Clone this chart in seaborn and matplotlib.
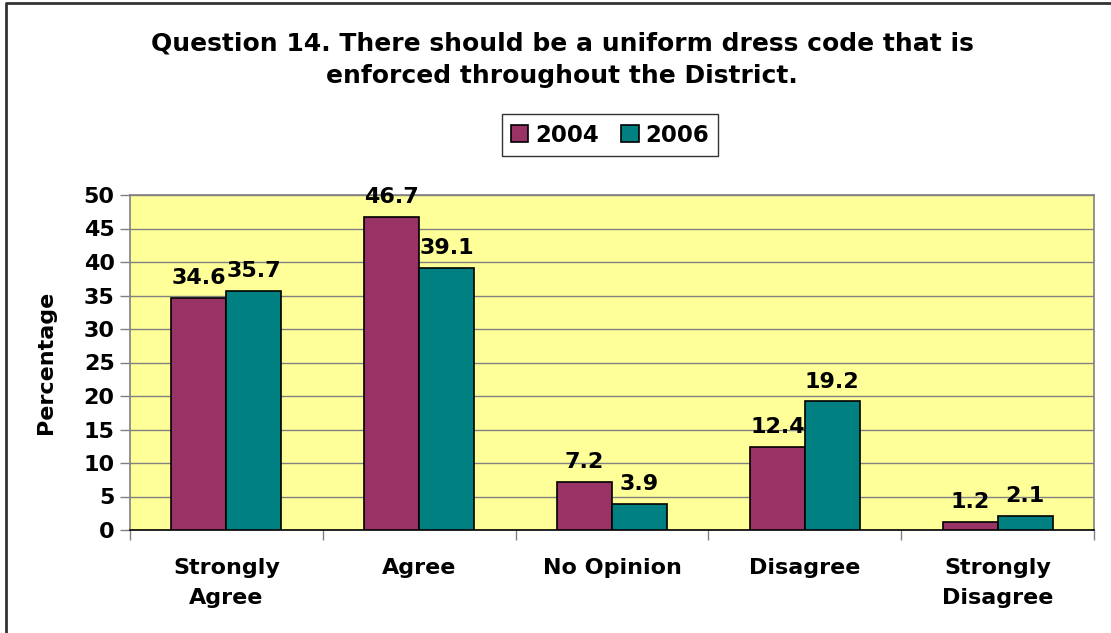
import matplotlib
matplotlib.use("Agg")
import matplotlib.pyplot as plt
import seaborn as sns
import pandas as pd
from matplotlib.patches import Rectangle
from matplotlib.lines import Line2D

categories = ["Strongly\nAgree", "Agree", "No Opinion", "Disagree", "Strongly\nDisagree"]
years = ["2004", "2006"]
values_2004 = [34.6, 46.7, 7.2, 12.4, 1.2]
values_2006 = [35.7, 39.1, 3.9, 19.2, 2.1]
palette = {"2004": "#993366", "2006": "#008080"}

df = pd.DataFrame({
    "Response": categories * 2,
    "Year": ["2004"] * len(categories) + ["2006"] * len(categories),
    "Percentage": values_2004 + values_2006,
})

sns.set_style("white")
plt.rcParams["font.family"] = ["DejaVu Sans"]
plt.rcParams["text.color"] = "black"
plt.rcParams["axes.labelcolor"] = "black"
plt.rcParams["xtick.color"] = "black"
plt.rcParams["ytick.color"] = "black"

W, H = 1111, 633
fig = plt.figure(figsize=(W / 100, H / 100), dpi=100)
ax = fig.add_axes([130 / W, 1 - 530 / H, (1094 - 130) / W, (530 - 195) / H])

sns.barplot(data=df, x="Response", y="Percentage", hue="Year", order=categories,
            hue_order=years, palette=palette, width=0.57, saturation=1,
            edgecolor="black", linewidth=1.2, ax=ax, legend=False, zorder=3)

ax.set_facecolor("#FFFF99")
ax.set_ylim(0, 50)
ax.set_xlim(-0.5, len(categories) - 0.5)
ax.set_yticks(range(0, 51, 5))
ax.grid(axis="y", color="#808080", linewidth=1, zorder=0)
ax.grid(axis="x", visible=False)
for s in ["top", "right", "left"]:
    ax.spines[s].set_color("#808080")
    ax.spines[s].set_linewidth(1.2)
ax.spines["bottom"].set_color("black")
ax.spines["bottom"].set_linewidth(1.2)

ax.tick_params(axis="y", which="both", left=True, length=7, width=1, color="#808080",
               labelsize=16, pad=4, labelcolor="black")
for lab in ax.get_yticklabels():
    lab.set_fontweight("bold")

ax.set_xticks(range(len(categories)))
ax.set_xticklabels(categories, fontsize=16, fontweight="bold", linespacing=1.62)
ax.tick_params(axis="x", which="major", bottom=False, pad=17, labelcolor="black")

# tick marks between categories on the x axis
ax.set_xticks([i - 0.5 for i in range(len(categories) + 1)], minor=True)
ax.tick_params(axis="x", which="minor", bottom=True, length=7, width=1, color="#808080")

ax.set_xlabel("")
ax.set_ylabel("Percentage", fontsize=16, fontweight="bold", labelpad=20)

for container in ax.containers:
    ax.bar_label(container, fmt="%.1f", fontsize=16, fontweight="bold", padding=7)

fig.suptitle("Question 14. There should be a uniform dress code that is\nenforced throughout the District.",
             fontsize=18, fontweight="bold", y=1 - 31 / H, va="top", linespacing=1.45, x=0.506)

handles = [Rectangle((0, 0), 1, 1, facecolor=palette[y], edgecolor="black", linewidth=1.2) for y in years]
leg = fig.legend(handles, years, loc="center", bbox_to_anchor=(610 / W, 1 - 135 / H),
                 ncol=2, frameon=True, fancybox=False, edgecolor="black",
                 prop={"size": 16.5, "weight": "bold"}, handlelength=0.75, handleheight=0.75,
                 handletextpad=0.3, columnspacing=1.0, borderpad=0.4)
leg.get_frame().set_linewidth(1)

# chart area border along the top and left edges
fig.add_artist(Line2D([5.5 / W, 5.5 / W, 1.0], [0.0, 1 - 2.5 / H, 1 - 2.5 / H],
                      transform=fig.transFigure, color="#333333", linewidth=2))

fig.savefig("out.png", dpi=100)
